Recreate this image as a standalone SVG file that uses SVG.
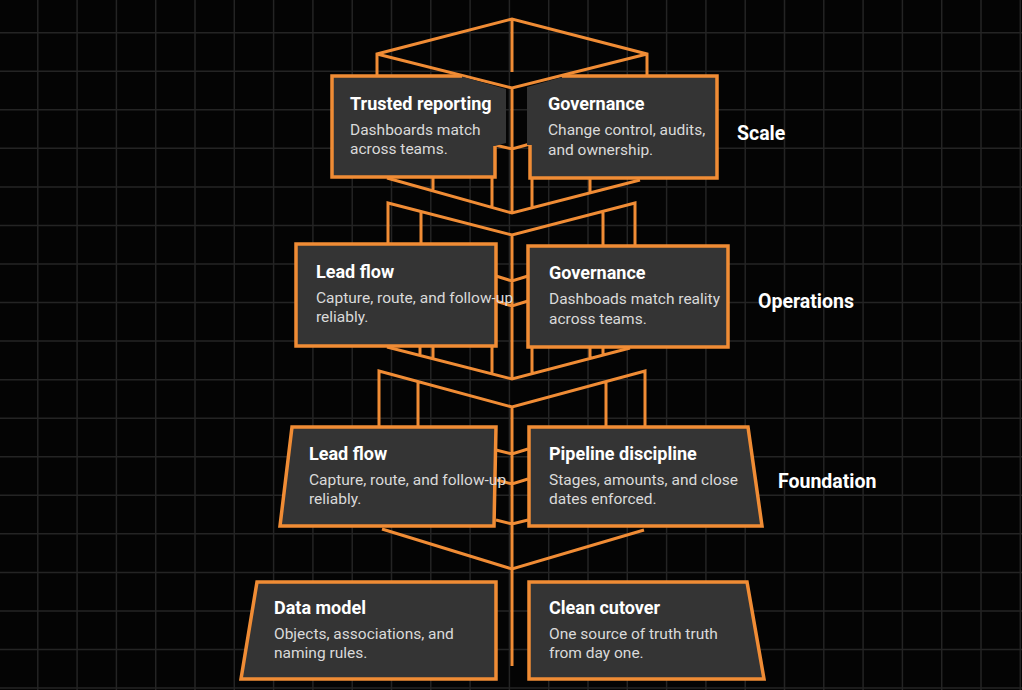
<svg xmlns="http://www.w3.org/2000/svg" width="1022" height="690" viewBox="0 0 1022 690">
<defs>
<style>
.grid{stroke:#242424;stroke-width:1.5;fill:none}
.con{stroke:#F08C35;stroke-width:3;fill:none;stroke-linejoin:miter;stroke-linecap:butt}
.fill{fill:#343434;stroke:none}
.bord{fill:none;stroke:#F08C35;stroke-width:3.5;stroke-linejoin:miter}
.box{fill:#343434;stroke:#F08C35;stroke-width:3.5;stroke-linejoin:miter}
.t{font-family:Roboto,"Liberation Sans",sans-serif;font-weight:700;font-size:18px;fill:#ffffff}
.b{font-family:Roboto,"Liberation Sans",sans-serif;font-weight:400;font-size:15.5px;fill:#dadada}
.lab{font-family:Roboto,"Liberation Sans",sans-serif;font-weight:700;font-size:19.5px;fill:#ffffff}
</style>
</defs>
<rect x="0" y="0" width="1022" height="690" fill="#040404"/>
<path class="grid" d="M37.8,0V690M77.1,0V690M116.4,0V690M155.7,0V690M195,0V690M234.3,0V690M273.6,0V690M312.9,0V690M352.2,0V690M391.5,0V690M430.8,0V690M470.1,0V690M509.4,0V690M548.7,0V690M588,0V690M627.3,0V690M666.6,0V690M705.9,0V690M745.2,0V690M784.5,0V690M823.8,0V690M863.1,0V690M902.4,0V690M941.7,0V690M981,0V690M1020.3,0V690
M0,32.7H1022M0,71.25H1022M0,109.8H1022M0,148.35H1022M0,186.9H1022M0,225.45H1022M0,264H1022M0,302.55H1022M0,341.1H1022M0,379.65H1022M0,418.2H1022M0,456.75H1022M0,495.3H1022M0,533.85H1022M0,572.4H1022M0,610.95H1022M0,649.5H1022M0,688.05H1022"/>
<g id="connectors">
<path class="con" d="M377,76V54L512,19L647,54V76M377,54L512,88L647,54M512,19V72M512,88V213M495,145L512,149L530,144"/>
<path class="con" d="M387,178L512,213L640,180M433,178V191M492,178V207.5M532,178V208M590,178V193"/>
<path class="con" d="M388,244V203L512,235L635,203V246M421,211.5V244M603,211.5V246M512,235V379M496,276L512,281L528,276M496,301L512,306L528,301"/>
<path class="con" d="M387,347L512,379L630,348M420,347V355.5M433,347V359M492,347V374M532,347V374M590,347V358.5M603,347V355"/>
<path class="con" d="M379,427V371L512,407L645,371V427M418,381.5V427M606,381.5V427M512,407V666M496,450L512,454L528,449M497,480L512,484L528,479M496,520L512,524L528,520"/>
<path class="con" d="M382,529L512,569L644,530"/>
</g>
<g id="scale-trusted-reporting">
<path class="fill" d="M332,76L460,76L506,89L506,143L495,146L495,177L332,177Z"/>
<path class="bord" d="M495,146V177H332V76H462"/>
<text class="t" x="350" y="109.5">Trusted reporting</text>
<text class="b" x="350" y="134.5">Dashboards match</text>
<text class="b" x="350" y="154">across teams.</text>
</g>
<g id="scale-governance">
<path class="fill" d="M527,87L566,76L717,76L717,178L530,178L530,145L527,145Z"/>
<path class="bord" d="M530,145V178H717V76H562"/>
<text class="t" x="548" y="110">Governance</text>
<text class="b" x="548" y="135">Change control, audits,</text>
<text class="b" x="548" y="154.5">and ownership.</text>
</g>
<g id="ops-lead-flow">
<rect class="box" x="296" y="244" width="200" height="102"/>
<text class="t" x="316" y="277.5">Lead flow</text>
<text class="b" x="316" y="302.5">Capture, route, and follow-up</text>
<text class="b" x="316" y="322">reliably.</text>
</g>
<g id="ops-governance">
<rect class="box" x="528" y="246" width="200" height="101"/>
<text class="t" x="549" y="279">Governance</text>
<text class="b" x="549" y="304">Dashboads match reality</text>
<text class="b" x="549" y="323.5">across teams.</text>
</g>
<g id="found-lead-flow">
<path class="box" d="M292,427H496L494,526H280Z"/>
<text class="t" x="309" y="460">Lead flow</text>
<text class="b" x="309" y="485">Capture, route, and follow-up</text>
<text class="b" x="309" y="504">reliably.</text>
</g>
<g id="found-pipeline">
<path class="box" d="M529,427H748L762,526H529Z"/>
<text class="t" x="549" y="460">Pipeline discipline</text>
<text class="b" x="549" y="485">Stages, amounts, and close</text>
<text class="b" x="549" y="504">dates enforced.</text>
</g>
<g id="base-data-model">
<path class="box" d="M257,582H496V679H241Z"/>
<text class="t" x="274" y="613.5">Data model</text>
<text class="b" x="274" y="638.5">Objects, associations, and</text>
<text class="b" x="274" y="658">naming rules.</text>
</g>
<g id="base-clean-cutover">
<path class="box" d="M529,582H747L764,679H529Z"/>
<text class="t" x="549" y="613.5">Clean cutover</text>
<text class="b" x="549" y="638.5">One source of truth truth</text>
<text class="b" x="549" y="658">from day one.</text>
</g>
<g id="labels">
<text class="lab" x="737" y="139.5">Scale</text>
<text class="lab" x="758" y="307.5">Operations</text>
<text class="lab" x="778" y="487.5">Foundation</text>
</g>
</svg>
